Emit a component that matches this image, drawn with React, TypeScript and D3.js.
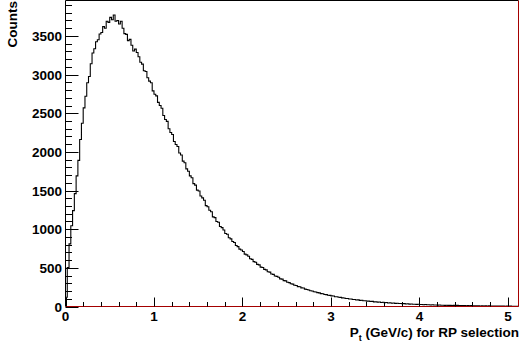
import React from "react";
import * as d3 from "d3";

// Histogram bin contents, 256 bins from 0 to 5.12 GeV/c (bin width 0.02)
const binCounts: number[] = [
  120, 505, 810, 1045, 1240, 1460, 1690, 1890, 2160, 2370,
  2570, 2720, 2895, 2975, 3140, 3280, 3335, 3425, 3450, 3525,
  3545, 3620, 3600, 3690, 3675, 3740, 3710, 3770, 3690, 3700,
  3655, 3690, 3600, 3530, 3520, 3440, 3455, 3380, 3305, 3330,
  3285, 3230, 3160, 3135, 3050, 3040, 2960, 2915, 2895, 2790,
  2745, 2725, 2640, 2600, 2565, 2470, 2420, 2395, 2300, 2250,
  2225, 2135, 2095, 2070, 1985, 1960, 1880, 1860, 1780, 1750,
  1690, 1665, 1590, 1570, 1505, 1495, 1430, 1405, 1375, 1305,
  1290, 1245, 1225, 1160, 1150, 1100, 1090, 1035, 1020, 990,
  945, 935, 890, 875, 840, 828, 790, 775, 742, 730,
  712, 678, 668, 650, 618, 610, 580, 572, 545, 538,
  510, 505, 480, 474, 450, 445, 421, 416, 394, 390,
  378, 358, 354, 335, 331, 313, 309, 295, 289, 275,
  272, 257, 255, 241, 239, 225, 219, 214, 204, 201,
  191, 188, 179, 176, 167, 165, 156, 154, 146, 144,
  137, 135, 127, 126, 119, 118, 111, 110, 104, 103,
  97, 97, 91, 91, 85, 86, 79, 80, 74, 75,
  69, 70, 64, 66, 60, 62, 56, 58, 52, 55,
  49, 51, 46, 48, 43, 45, 40, 42, 38, 39,
  35, 37, 33, 35, 31, 32, 29, 30, 27, 29,
  25, 26, 23, 25, 22, 23, 20, 22, 19, 20,
  18, 19, 16, 17, 15, 17, 14, 15, 13, 15,
  12, 14, 11, 13, 11, 12, 10, 11, 9, 11,
  8, 10, 8, 9, 7, 9, 7, 8, 6, 8,
  6, 7, 5, 7, 5, 6, 5, 6, 4, 5,
  4, 5, 4, 4, 3, 4,
];

const xRange: [number, number] = [0, 5.12];
const xMajorTicks = [0, 1, 2, 3, 4, 5];
const yMajorTicks = [0, 500, 1000, 1500, 2000, 2500, 3000, 3500];
const xTitleMain = "P";
const xTitleSub = "t";
const xTitleRest = " (GeV/c) for RP selection";
const yTitle = "Counts";

const W = 524;
const H = 346;
const frame = { left: 65.5, right: 518.5, top: 0.5, bottom: 306.5 };
const FONT = "'Liberation Sans', Arial, Helvetica, sans-serif";
const RED = "#a40000";

export default function App() {
  const n = binCounts.length;
  const bw = (xRange[1] - xRange[0]) / n;
  const yMax = d3.max(binCounts)! * 1.05;

  const x = d3.scaleLinear().domain(xRange).range([frame.left, frame.right]);
  const y = d3.scaleLinear().domain([0, yMax]).range([frame.bottom, frame.top]);

  const pts: [number, number][] = binCounts.map((v, i) => [xRange[0] + i * bw, v]);
  pts.push([xRange[1], binCounts[n - 1]]);
  const line = d3
    .line<[number, number]>()
    .x((d) => x(d[0]))
    .y((d) => y(d[1]))
    .curve(d3.curveStepAfter);

  const xMinor = d3.range(0, 5.12, 0.2).filter((v) => Math.abs(v - Math.round(v)) > 1e-6);
  const yMinor = d3.range(0, yMax, 100).filter((v) => v % 500 !== 0);

  return (
    <svg
      width={W}
      height={H}
      style={{ position: "fixed", left: 0, top: 0, background: "#fff" }}
      fontFamily={FONT}
      fontWeight="bold"
    >
      <rect x={0} y={0} width={W} height={H} fill="#fff" />
      {/* frame */}
      <line x1={frame.left} x2={frame.right} y1={frame.top} y2={frame.top} stroke="#000" />
      <line x1={frame.right} x2={frame.right} y1={frame.top} y2={frame.bottom} stroke={RED} />

      {/* histogram */}
      <path d={line(pts) || ""} fill="none" stroke="#000" strokeWidth={1.1} />

      {/* x axis */}
      <line x1={frame.left} x2={frame.right} y1={frame.bottom} y2={frame.bottom} stroke={RED} />
      {xMajorTicks.map((t) => (
        <g key={"xt" + t}>
          <line x1={Math.round(x(t)) + 0.5} x2={Math.round(x(t)) + 0.5} y1={frame.bottom} y2={frame.bottom - 9} stroke="#000" />
          <text x={x(t)} y={321} fontSize={13.5} textAnchor="middle" fill="#000">
            {t}
          </text>
        </g>
      ))}
      {xMinor.map((t) => (
        <line key={"xm" + t} x1={Math.round(x(t)) + 0.5} x2={Math.round(x(t)) + 0.5} y1={frame.bottom} y2={frame.bottom - 4.5} stroke="#000" />
      ))}

      {/* y axis */}
      <line x1={frame.left} x2={frame.left} y1={frame.top} y2={frame.bottom} stroke="#000" />
      {yMajorTicks.map((t) => (
        <g key={"yt" + t}>
          <line x1={frame.left} x2={frame.left + 13} y1={Math.round(y(t)) + 0.5} y2={Math.round(y(t)) + 0.5} stroke="#000" />
          <text x={frame.left - 3.5} y={y(t) + 5} fontSize={13.5} textAnchor="end" fill="#000">
            {t}
          </text>
        </g>
      ))}
      {yMinor.map((t) => (
        <line key={"ym" + t} x1={frame.left} x2={frame.left + 6.5} y1={Math.round(y(t)) + 0.5} y2={Math.round(y(t)) + 0.5} stroke="#000" />
      ))}

      {/* titles */}
      <text x={519} y={337} fontSize={13.5} textAnchor="end" fill="#000">
        {xTitleMain}
        <tspan fontSize={9} dy={4}>{xTitleSub}</tspan>
        <tspan dy={-4}>{xTitleRest}</tspan>
      </text>
      <text transform="translate(17,1) rotate(-90)" fontSize={13.5} textAnchor="end" fill="#000">
        {yTitle}
      </text>
    </svg>
  );
}
